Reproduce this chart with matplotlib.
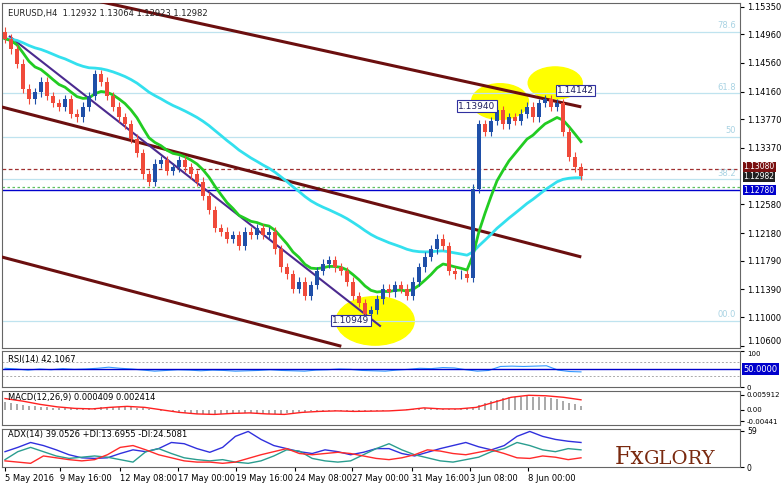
import matplotlib
matplotlib.use("Agg")
import matplotlib.pyplot as plt
import numpy as np
import pandas as pd
from matplotlib.patches import Ellipse

closes = [1.1490,1.1475,1.1455,1.1420,1.1405,1.1415,1.1430,1.1410,1.1400,1.1395,1.1405,1.1385,1.1380,1.1395,1.1410,1.1440,1.1430,1.1410,1.1395,1.1380,
1.1370,1.1350,1.1330,1.1300,1.1290,1.1315,1.1320,1.1305,1.1310,1.1320,1.1310,1.1300,1.1290,1.1270,1.1250,1.1225,1.1220,1.1210,1.1215,1.1200,
1.1220,1.1215,1.1225,1.1215,1.1220,1.1195,1.1170,1.1160,1.1140,1.1150,1.1130,1.1145,1.1165,1.1175,1.1180,1.1170,1.1165,1.1150,1.1130,1.1120,
1.1105,1.1110,1.1125,1.1140,1.1135,1.1145,1.1140,1.1130,1.1150,1.1170,1.1185,1.1195,1.1210,1.1200,1.1165,1.1160,1.1160,1.1155,1.1280,1.1370,
1.1360,1.1375,1.1390,1.1370,1.1380,1.1375,1.1385,1.1395,1.1380,1.1400,1.1405,1.1395,1.1400,1.1360,1.1325,1.1310,1.1298]
open0 = 1.1500
price_ticks = [1.15350,1.14960,1.14560,1.14160,1.13770,1.13370,1.12580,1.12180,1.11790,1.11390,1.11000,1.10600]
fib_levels = [1.1500,1.1414,1.1353,1.1293,1.1095]
fib_names = ["78.6","61.8","50","38.2","00.0"]
trend_brown = [[(15.8,1.1542),(95.8,1.1395)],[(-0.8,1.1395),(95.8,1.1185)],[(-0.8,1.1185),(55.8,1.1060)]]
trend_purple = [(0.8,1.1493),(62.5,1.1088)]
circles = [(61.7,1.1095,13,0.0068),(82.5,1.1402,9.5,0.0050),(91.7,1.1428,9,0.0045)]
boxes = [(54.5,1.1092,"1.10949"),(75.5,1.1392,"1.13940"),(92,1.1414,"1.14142")]
xtick_idx = [0,9.2,19.2,28.8,38.5,48.3,57.8,67.8,77.5,87.2]
xtick_lab = ["5 May 2016","9 May 16:00","12 May 08:00","17 May 00:00","19 May 16:00","24 May 08:00","27 May 00:00","31 May 16:00","3 Jun 08:00","8 Jun 00:00"]
rsi = [52,50,47,50,48,51,49,50,52,55,52,50,47,44,46,48,47,45,47,46,44,45,46,48,46,45,44,47,48,50,49,46,45,44,47,49,52,51,54,53,48,44,46,57,58,57,58,59,47,43,42]
macd_sig = [0.0045,0.0035,0.0022,0.0012,0.0006,0.0004,0.0010,0.0014,0.0010,0.0000,-0.0010,-0.0016,-0.0018,-0.0014,-0.0012,-0.0016,-0.0018,-0.0010,-0.0006,-0.0004,-0.0006,-0.0005,-0.0004,0.0000,0.0008,0.0004,0.0004,0.0010,0.0030,0.0050,0.0058,0.0056,0.0050,0.0040]
macd_hist = [0.0030,0.0020,0.0012,0.0008,0.0006,0.0008,0.0012,0.0012,0.0006,-0.0004,-0.0012,-0.0016,-0.0016,-0.0012,-0.0012,-0.0016,-0.0014,-0.0008,-0.0004,-0.0004,-0.0005,-0.0004,-0.0002,0.0002,0.0006,0.0002,0.0004,0.0014,0.0038,0.0052,0.0054,0.0050,0.0036,0.0014]
adx = [25,32,40,35,28,20,15,14,15,22,28,25,30,40,38,30,24,32,50,58,45,35,30,25,22,28,25,20,24,30,30,22,18,24,30,35,40,33,28,35,50,58,50,45,42,40]
pdi = [12,25,32,25,18,14,16,18,16,12,8,25,30,22,15,12,10,12,8,6,10,18,28,26,14,10,8,10,20,30,38,28,20,15,10,8,12,16,25,30,40,35,28,25,30,28]
mdi = [10,8,6,18,15,12,10,12,20,32,35,28,20,15,10,8,8,6,8,14,20,25,30,22,20,22,24,22,18,14,12,15,20,28,26,22,20,24,28,22,15,14,18,16,12,15]

closes = np.array(closes)
opens = np.concatenate([[open0], closes[:-1]])
n = len(closes)
idx = np.arange(n)
s = pd.Series(closes)
ma_fast = s.ewm(span=10, adjust=False).mean()
ma_slow = s.ewm(span=40, adjust=False).mean()

fig = plt.figure(figsize=(7.82, 4.86), dpi=100)
W, H = 782, 486
def ax_at(top, bottom):
    return fig.add_axes([2/W, 1-bottom/H, 738/W, (bottom-top)/H])
ax = ax_at(3, 348)
xl = (-0.5, 122.5)
ax.set_xlim(*xl); ax.set_ylim(1.1057, 1.1540)
for lv, nm in zip(fib_levels, fib_names):
    ax.axhline(lv, color="#bfe3ef", lw=0.9)
    ax.text(121.8, lv+0.0002, nm, color="#a9d3e3", fontsize=6, ha="right", va="bottom")
for cx, cy, w, h in circles:
    ax.add_patch(Ellipse((cx, cy), w, h, color="#ffff00", zorder=1))
ax.axhline(1.1308, color="#a03030", lw=0.9, ls=(0,(3,2)))
ax.axhline(1.1282, color="#60c060", lw=0.9, ls=(0,(2,2)))
ax.axhline(1.1278, color="#0000cc", lw=1.0)
for (x0,y0),(x1,y1) in trend_brown:
    ax.plot([x0,x1],[y0,y1], color="#6b0f0f", lw=2.2, zorder=3)
ax.plot(*zip(*trend_purple), color="#4b2a8f", lw=1.5, zorder=3)
ax.plot(idx, ma_slow, color="#33e0ee", lw=2, zorder=4)
ax.plot(idx, ma_fast, color="#22cc22", lw=2, zorder=4)
for i in range(n):
    o, c = opens[i], closes[i]
    col = "#1f4fa8" if c >= o else "#f04a3a"
    ax.vlines(i, min(o,c)-0.0006, max(o,c)+0.0006, color=col, lw=0.8, zorder=5)
    ax.bar(i, max(abs(c-o),0.00008), bottom=min(o,c), width=0.6, color=col, zorder=5)
for bx, by, t in boxes:
    ax.text(bx, by, t, fontsize=6.5, color="#202060", zorder=6,
            bbox=dict(boxstyle="square,pad=0.15", fc="white", ec="#3030a0", lw=0.8))
ax.text(0.5, 1.1522, "EURUSD,H4  1.12932 1.13064 1.12923 1.12982", fontsize=6, color="#222")
ax.set_xticks([])
ax.yaxis.tick_right()
ax.set_yticks(price_ticks)
ax.set_yticklabels([f"{t:.5f}" for t in price_ticks], fontsize=6)
ax.get_yticklabels()[-1].set_va("bottom")
for lv, lab, fc in [(1.13105,"1.13080","#7a1010"),(1.12965,"1.12982","#202020"),(1.1278,"1.12780","#0000cc")]:
    ax.text(1.005, lv, lab, transform=ax.get_yaxis_transform(), fontsize=5.5, color="white",
            va="center", bbox=dict(boxstyle="square,pad=0.1", fc=fc, ec="none"), clip_on=False)

# RSI
a1 = ax_at(351, 387)
x2 = np.linspace(0, n-1, len(rsi))
a1.plot(x2, rsi, color="#3399ff", lw=0.8)
a1.axhline(50, color="#0000cc", lw=1)
for lv in (70, 30): a1.axhline(lv, color="#aaa", lw=0.7, ls=(0,(2,2)))
a1.set_xlim(*xl); a1.set_ylim(0, 100); a1.set_xticks([])
a1.yaxis.tick_right(); a1.set_yticks([0,100]); a1.set_yticklabels(["0","100"], fontsize=5)
a1.get_yticklabels()[1].set_va("top")
a1.text(0.5, 88, "RSI(14) 42.1067", fontsize=6, va="top")
a1.text(1.005, 50, "50.0000", transform=a1.get_yaxis_transform(), fontsize=6, color="white", va="center",
        bbox=dict(boxstyle="square,pad=0.15", fc="#0000cc", ec="none"), clip_on=False)
# MACD
a2 = ax_at(391, 425)
x3 = np.linspace(0, n-1, len(macd_sig))
a2.bar(np.arange(n), np.interp(np.arange(n), x3, macd_hist), width=0.3, color="#aaaaaa")
a2.plot(x3, macd_sig, color="#ff2020", lw=1)
a2.set_xlim(*xl); a2.set_ylim(-0.0060, 0.0075); a2.set_xticks([])
a2.yaxis.tick_right(); a2.set_yticks([0.005912,0,-0.004412]); a2.set_yticklabels(["0.005912","0.00","-0.00441"], fontsize=5)
a2.text(0.5, 0.0066, "MACD(12,26,9) 0.000409 0.002414", fontsize=6, va="top")
# ADX
a3 = ax_at(429, 467)
x4 = np.linspace(0, n-1, len(adx))
a3.plot(x4, adx, color="#3030dd", lw=1)
a3.plot(x4, pdi, color="#2a9d8f", lw=1)
a3.plot(x4, mdi, color="#ff2a2a", lw=1)
a3.set_xlim(*xl); a3.set_ylim(0, 62)
a3.yaxis.tick_right(); a3.set_yticks([0,59]); a3.set_yticklabels(["0","59"], fontsize=5.5)
a3.set_xticks(xtick_idx); a3.set_xticklabels(xtick_lab, fontsize=6, ha="left")
a3.tick_params(axis="x", length=3, pad=2)
a3.text(0.5, 60, "ADX(14) 39.0526 +DI:13.6955 -DI:24.5081", fontsize=6, va="top")
a3.text(0.87, 0.08, "Fx", transform=a3.transAxes, fontsize=17, color="#7a2a10", ha="right", family="serif")
a3.text(0.87, 0.08, "GLORY", transform=a3.transAxes, fontsize=14, color="#7a2a10", ha="left", family="serif")
for a in (ax, a1, a2, a3):
    for sp in a.spines.values(): sp.set_color("#666"); sp.set_linewidth(0.8)
    a.tick_params(axis="y", length=3, pad=2)
fig.savefig("out.png", dpi=100)
